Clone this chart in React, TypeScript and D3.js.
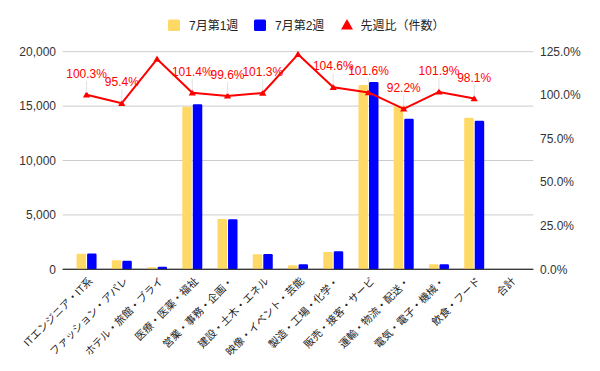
import React from 'react'
import * as d3 from 'd3'

// chart data
const categories = [
  'ITエンジニア・IT系', 'ファッション・アパレ', 'ホテル・旅館・ブライ', '医療・医薬・福祉',
  '営業・事務・企画・', '建設・土木・エネル', '映像・イベント・芸能', '製造・工場・化学・',
  '販売・接客・サービ', '運輸・物流・配送・', '電気・電子・機械・', '飲食・フード', '合計',
]
const week1 = [1440, 830, 190, 14950, 4620, 1380, 370, 1580, 16950, 14980, 455, 13920, null]
const week2 = [1450, 790, 230, 15160, 4600, 1400, 457, 1650, 17220, 13830, 465, 13660, null]
const ratio = [1.003, 0.954, 1.208, 1.014, 0.996, 1.013, 1.235, 1.046, 1.016, 0.922, 1.019, 0.981, null]
const seriesNames = ['7月第1週', '7月第2週', '先週比（件数）']
const leftTicks = [0, 5000, 10000, 15000, 20000]
const rightTicks = [0, 0.25, 0.5, 0.75, 1, 1.25]

const W = 600
const H = 371
const FONT = '"Liberation Sans", Arial, "Noto Sans CJK JP", sans-serif'
const YELLOW = '#ffd966'
const BLUE = '#0000ff'
const RED = '#ff0000'

const plot = { left: 62.7, right: 533.3, top: 51.7, bottom: 269.3 }

const App = () => {
  const x = d3.scaleBand<string>()
    .domain(categories)
    .range([plot.left, plot.right])
    .paddingInner(0)
    .paddingOuter(0.177)

  const x1 = d3.scaleBand<number>()
    .domain([0, 1])
    .range([0, 20])
    .paddingInner(0.1)

  const yLeft = d3.scaleLinear().domain([0, 20000]).range([plot.bottom, plot.top])
  const yRight = d3.scaleLinear().domain([0, 1.25]).range([plot.bottom, plot.top])

  const fmtNum = d3.format(',')
  const fmtPct = d3.format('.1%')

  const cx = (i: number) => (x(categories[i]) as number) + x.bandwidth() / 2

  const linePts = ratio
    .map((r, i) => (r == null ? null : [cx(i), yRight(r)] as [number, number]))
    .filter((p): p is [number, number] => p !== null)

  const line = d3.line()(linePts) as string

  const tri = (px: number, py: number, s: number) =>
    `M${px},${py - s * 0.6}L${px + s * 0.6},${py + s * 0.45}L${px - s * 0.6},${py + s * 0.45}Z`

  const barGroups = [week1, week2]
  const barColors = [YELLOW, BLUE]

  return (
    <svg width={W} height={H} style={{ position: 'absolute', left: 0, top: 0, fontFamily: FONT }}>
      <rect width={W} height={H} fill="#fff" />

      {/* legend */}
      <g fontSize={12} fill="#222">
        <rect x={168} y={19.5} width={12} height={11.5} rx={1.5} fill={YELLOW} />
        <text x={189} y={29.5}>{seriesNames[0]}</text>
        <rect x={254} y={19.5} width={12} height={11.5} rx={1.5} fill={BLUE} />
        <text x={275} y={29.5}>{seriesNames[1]}</text>
        <path d={tri(347, 25, 10)} fill={RED} />
        <text x={360.5} y={29.5}>{seriesNames[2]}</text>
      </g>

      {/* gridlines + axis labels */}
      {leftTicks.map(t => (
        <g key={'l' + t}>
          <line x1={plot.left} x2={plot.right} y1={yLeft(t)} y2={yLeft(t)}
            stroke={t === 0 ? '#333' : '#cccccc'} strokeWidth={1} />
          <text x={56} y={yLeft(t)} dy="0.35em" textAnchor="end" fontSize={12} fill="#333">
            {fmtNum(t)}
          </text>
        </g>
      ))}
      {rightTicks.map(t => (
        <text key={'r' + t} x={540} y={yRight(t)} dy="0.35em" fontSize={12} fill="#333">
          {fmtPct(t)}
        </text>
      ))}

      {/* bars */}
      {categories.map((c, i) => (
        <g key={c} transform={`translate(${cx(i) - 10},0)`}>
          {barGroups.map((s, k) => s[i] == null ? null : (
            <rect key={k} x={x1(k)} y={yLeft(s[i] as number)} width={x1.bandwidth()}
              height={plot.bottom - yLeft(s[i] as number)} rx={1.2} fill={barColors[k]} />
          ))}
        </g>
      ))}
      <line x1={plot.left} x2={plot.right} y1={plot.bottom} y2={plot.bottom} stroke="#333" />

      {/* ratio line */}
      <path d={line} fill="none" stroke={RED} strokeWidth={2} strokeLinejoin="round" />
      {linePts.map((p, i) => (
        <path key={i} d={tri(p[0], p[1], 6)} fill={RED} />
      ))}

      {/* data labels (hidden when they would leave the plot area) */}
      {ratio.map((r, i) => {
        if (r == null) return null
        const py = yRight(r)
        const base = py - 17
        if (base - 10 < plot.top) return null
        return (
          <g key={'lab' + i}>
            <line x1={cx(i)} x2={cx(i)} y1={base + 3} y2={py - 2} stroke="#e3e3e3" strokeWidth={1} />
            <text x={cx(i)} y={base} textAnchor="middle" fontSize={12} fill={RED}>
              {fmtPct(r)}
            </text>
          </g>
        )
      })}

      {/* category labels */}
      {categories.map((c, i) => (
        <text key={'x' + c} transform={`translate(${cx(i) + 4},${plot.bottom + 10}) rotate(-45)`}
          textAnchor="end" dy="0.35em" fontSize={10.5} fill="#222">
          {c}
        </text>
      ))}
    </svg>
  )
}

export default App
